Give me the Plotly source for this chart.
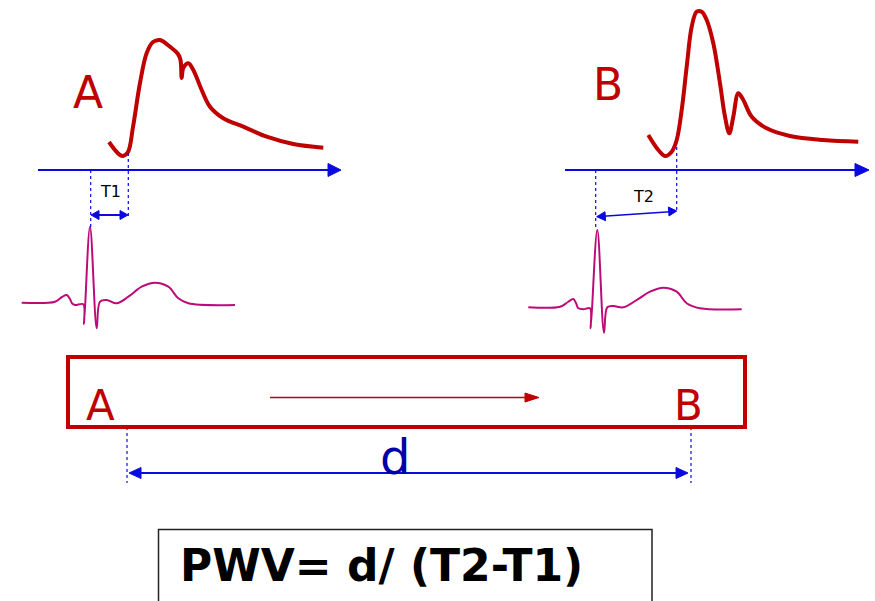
import plotly.graph_objects as go

RED = "#c00000"
BLUE = "#0a0ae0"
DBLUE = "#0000a8"
ECG = "#be0a78"

# Pulse wave A (pixel coordinates)
waveA_x = [109, 115, 120, 123, 128, 133, 140, 146.7, 153, 160, 170, 178, 180.5, 181.7, 183.3, 188.3, 193.3, 201.7, 210, 223.3, 243.3, 266.7, 293.3, 323.3]
waveA_y = [142, 150, 155, 156, 152, 127, 83, 53, 42, 40, 46.7, 54, 60, 78, 68, 63.3, 70, 90, 106.7, 118.3, 126.7, 136.7, 144, 147.7]

# Pulse wave B
waveB_x = [648.3, 658.3, 665, 671.7, 676.7, 681.7, 686.7, 691.7, 696.7, 701.7, 706.7, 713.3, 720, 725, 729.3, 733.3, 738.3, 743.3, 751.7, 766.7, 790, 823.3, 858.3]
waveB_y = [135, 150, 156, 151.7, 140, 110, 66.7, 26.7, 11.7, 11.7, 20, 43.3, 83.3, 116.7, 133.3, 116.7, 93.3, 100, 116.7, 128.3, 136, 140, 141.7]

# ECG A
ecgA_x = [21.7, 55, 62, 66.7, 70, 72, 75, 83.3, 84, 90, 96.7, 100, 106.7, 116.7, 128.3, 141.7, 155, 168.3, 178.3, 188.3, 235]
ecgA_y = [302.7, 301.7, 297, 295, 299, 303.3, 305, 304.3, 324, 226.7, 328.3, 301.7, 300, 303.3, 296.7, 286.7, 282.7, 286.7, 298.3, 303.3, 305]

# ECG B
ecgB_x = [528.3, 560, 568, 573.3, 576, 578.3, 583.3, 590, 590.7, 597.3, 604, 607.3, 613.3, 623.3, 636.7, 650, 663.3, 676.7, 686.7, 700, 741.7]
ecgB_y = [307.3, 306.7, 302, 299, 303, 308.3, 309.3, 308.3, 328.3, 230, 332.7, 307.3, 306, 307.3, 300, 291.7, 287.7, 291.7, 303.3, 308.3, 309.3]

labels_top = ["A", "B"]
formula = "PWV= d/ (T2-T1)"

fig = go.Figure()

def line(xs, ys, color, width, dash=None, shape="linear"):
    fig.add_trace(go.Scatter(x=xs, y=ys, mode="lines", line=dict(color=color, width=width, dash=dash, shape=shape),
                             hoverinfo="skip", showlegend=False))

def tri(xs, ys, color):
    fig.add_trace(go.Scatter(x=xs, y=ys, mode="lines", fill="toself", fillcolor=color,
                             line=dict(color=color, width=1), hoverinfo="skip", showlegend=False))

# time axes
line([38, 330], [170, 170], BLUE, 2)
tri([328, 341, 328, 328], [163.5, 170, 176.5, 163.5], BLUE)
line([565, 857], [170, 170], BLUE, 2)
tri([855, 869, 855, 855], [163.5, 170, 176.5, 163.5], BLUE)

# waves
line(waveA_x, waveA_y, RED, 4, shape="spline")
line(waveB_x, waveB_y, RED, 4, shape="spline")
line(ecgA_x, ecgA_y, ECG, 2, shape="spline")
line(ecgB_x, ecgB_y, ECG, 2, shape="spline")

# dotted guides
line([90.7, 90.7], [170, 229], BLUE, 1.2, dash="dot")
line([128.3, 128.3], [153, 218], BLUE, 1.2, dash="dot")
line([595.7, 595.7], [170, 229], BLUE, 1.2, dash="dot")
line([676.7, 676.7], [147, 213], BLUE, 1.2, dash="dot")

# T1 double arrow
line([97, 122], [215, 215], BLUE, 2)
tri([91, 99, 99, 91], [215, 210.5, 219.5, 215], BLUE)
tri([128, 120, 120, 128], [215, 210.5, 219.5, 215], BLUE)
# T2 double arrow
line([603, 670], [216.3, 211.7], BLUE, 1.6)
tri([596.7, 605, 605.6, 596.7], [216.7, 211.7, 220.7, 216.7], BLUE)
tri([676.7, 668.4, 669, 676.7], [211, 207, 216, 211], BLUE)

# tube rectangle
fig.add_shape(type="rect", x0=68, x1=745, y0=357, y1=427, line=dict(color=RED, width=4))
line([270, 527], [397.5, 397.5], RED, 1.5)
tri([525, 539, 525, 525], [393, 397.5, 402, 393], RED)

# d dimension
line([127, 127], [427, 483], BLUE, 1.2, dash="dot")
line([691, 691], [427, 483], BLUE, 1.2, dash="dot")
line([138, 678], [473, 473], BLUE, 2)
tri([129, 141, 141, 129], [473, 467.5, 478.5, 473], BLUE)
tri([688, 676, 676, 688], [473, 467.5, 478.5, 473], BLUE)

# formula box
fig.add_shape(type="rect", x0=158.5, x1=652, y0=529.5, y1=640, line=dict(color="#222222", width=1.5))

ann = [
    dict(x=88, y=92, text=labels_top[0], size=44, color=RED, font="DejaVu Sans"),
    dict(x=608, y=84, text=labels_top[1], size=44, color=RED, font="DejaVu Sans"),
    dict(x=110, y=191, text="T1", size=16, color="black", font="DejaVu Sans"),
    dict(x=643, y=196, text="T2", size=16, color="black", font="DejaVu Sans"),
    dict(x=100, y=405, text="A", size=42, color=RED, font="DejaVu Sans"),
    dict(x=688, y=405, text="B", size=42, color=RED, font="DejaVu Sans"),
    dict(x=395, y=457, text="d", size=48, color=DBLUE, font="DejaVu Sans"),
    dict(x=381, y=565, text="<b>" + formula + "</b>", size=44, color="black", font="DejaVu Sans"),
]
for a in ann:
    fig.add_annotation(x=a["x"], y=a["y"], text=a["text"], showarrow=False, xanchor="center", yanchor="middle",
                       font=dict(size=a["size"], color=a["color"], family=a["font"]))

fig.update_layout(width=875, height=601, margin=dict(l=0, r=0, t=0, b=0),
                  plot_bgcolor="white", paper_bgcolor="white",
                  xaxis=dict(range=[0, 875], visible=False, fixedrange=True),
                  yaxis=dict(range=[601, 0], visible=False, fixedrange=True))
fig.write_html("out.html", config={"displayModeBar": False},
               post_script="document.body.style.margin='0';document.body.style.overflow='hidden';")
